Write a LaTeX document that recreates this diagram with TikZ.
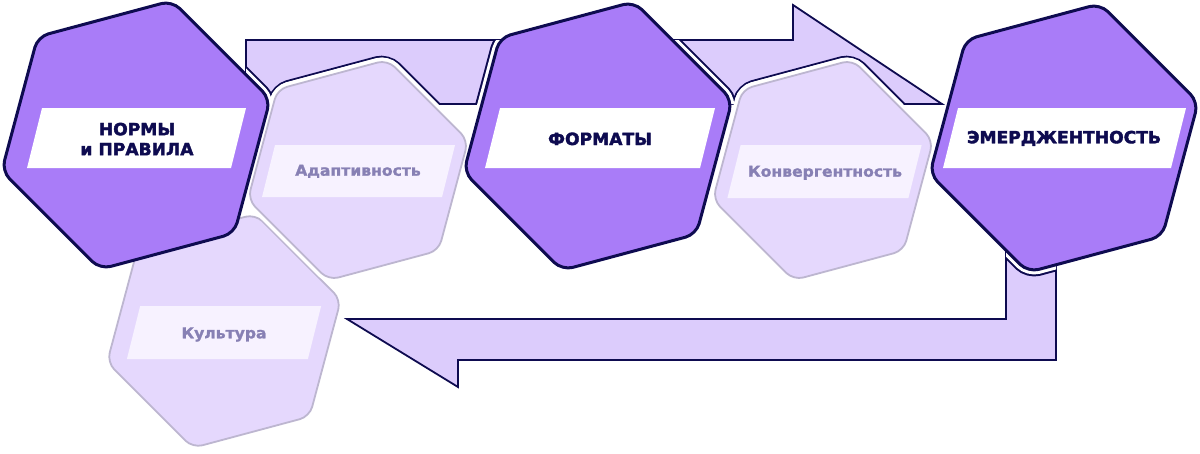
\documentclass[tikz,border=0pt]{standalone}
\usepackage{fontspec}
\setmainfont{DejaVu Sans}
\newfontfamily\dick{DejaVu Sans Bold}[FakeStretch=1.02, FakeBold=2.2]
\newfontfamily\halbdick{DejaVu Sans Bold}[FakeStretch=1.04, FakeBold=1.4]
\usepackage{tikz}

\definecolor{dunkel}{HTML}{0E0B50}
\definecolor{lila}{HTML}{A97CF8}
\definecolor{pfeil}{HTML}{DCCCFC}
\definecolor{hell}{HTML}{E5D8FD}
\definecolor{hellrand}{HTML}{BDB6D0}
\definecolor{streifen}{HTML}{F7F2FF}
\definecolor{helltext}{HTML}{8780B4}

% Sechseck um (0,0), Ecken bei 45+60k
\newcommand\sechseck[1]{(45:#1) -- (105:#1) -- (165:#1) -- (225:#1) -- (285:#1) -- (345:#1) -- cycle}
% schraeger Streifen hinter dem Text
\newcommand\band[4]{\fill[#4, shift={(#1)}] ({-#2+#3/4},-#3) -- ({#2+#3/4},-#3) -- ({#2-#3/4},#3) -- ({-#2-#3/4},#3) -- cycle;}
% Pfeile
\newcommand\pfeilEins{(246,40) -- (540,40) -- (540,104) -- (246,104) -- cycle}
\newcommand\pfeilZwei{(650,40) -- (793,40) -- (793,5) -- (942,104) -- (650,104) -- cycle}
\newcommand\pfeilDrei{(1006,220) -- (1006,319) -- (347,319) -- (458,387) -- (458,360) -- (1056,360) -- (1056,220) -- cycle}

\begin{document}
\begin{tikzpicture}[x=1pt, y=-1pt,
				pfeilform/.style={fill=pfeil, draw=dunkel, line width=1.8pt, line join=miter},
				schnitt/.style={draw=dunkel, line width=13pt, rounded corners=11pt},
				luecke/.style={draw=white, line width=9pt, rounded corners=11pt},
				gross/.style={fill=lila, draw=dunkel, line width=3pt, rounded corners=11pt},
				klein/.style={fill=hell, draw=hellrand, line width=1.8pt, rounded corners=10pt},
				halo/.style={draw=white, line width=9pt, rounded corners=10pt},
				grosstext/.style={inner sep=0pt, text=dunkel, font=\dick\fontsize{16.8}{20}\selectfont},
				kleintext/.style={inner sep=0pt, anchor=base, text=helltext, font=\halbdick\fontsize{15}{17}\selectfont}]
				\useasboundingbox (0,0) rectangle (1200,453);
				% Mittelpunkte
				\coordinate (N) at (136,135);
				\coordinate (F) at (598,136);
				\coordinate (E) at (1064,138);
				\coordinate (A) at (358,170);
				\coordinate (K) at (823,170);
				\coordinate (C) at (224,331);
				% Pfeile zeichnen
				\draw[pfeilform] \pfeilEins;
				\draw[pfeilform] \pfeilZwei;
				\draw[pfeilform] \pfeilDrei;
				% Pfeile an den Sechsecken ausschneiden
				\foreach \p in {\pfeilEins, \pfeilZwei, \pfeilDrei} {
					\begin{scope}
						\clip \p;
						\foreach \m/\r in {N/139, F/139, E/139, A/114, K/114, C/121} \draw[schnitt, shift={(\m)}] \sechseck{\r};
						\foreach \m/\r in {N/139, F/139, E/139, A/114, K/114, C/121} \draw[luecke, shift={(\m)}] \sechseck{\r};
					\end{scope}
				}
				% helle Sechsecke
				\foreach \m/\r in {C/121, A/114, K/114} {
					\draw[halo, shift={(\m)}] \sechseck{\r};
					\draw[klein, shift={(\m)}] \sechseck{\r};
				}
				\band{224,332.5}{90.5}{26.5}{streifen}
				\band{358.5,171}{90}{26}{streifen}
				\band{824.5,171.5}{90.5}{26.5}{streifen}
				\node[kleintext] (kultur) at (224,338.3) {Культура};
				\node[kleintext] (adapt) at (358,175.7) {Адаптивность};
				\node[kleintext] (konv) at (825,176.7) {Конвергентность};
				% grosse Sechsecke
				\foreach \m in {N, F, E} \draw[gross, shift={(\m)}] \sechseck{139};
				\band{136.5,138}{102}{30}{white}
				\band{600,138}{107.5}{30}{white}
				\band{1064.5,138}{114}{30}{white}
				\node[grosstext, align=center] (normen) at (137,139) {НОРМЫ\\и ПРАВИЛА};
				\node[grosstext, anchor=base] (formate) at (600,145) {ФОРМАТЫ};
				\node[grosstext, anchor=base] (emerg) at (1064,143.3) {ЭМЕРДЖЕНТНОСТЬ};
			\end{tikzpicture}
\end{document}
